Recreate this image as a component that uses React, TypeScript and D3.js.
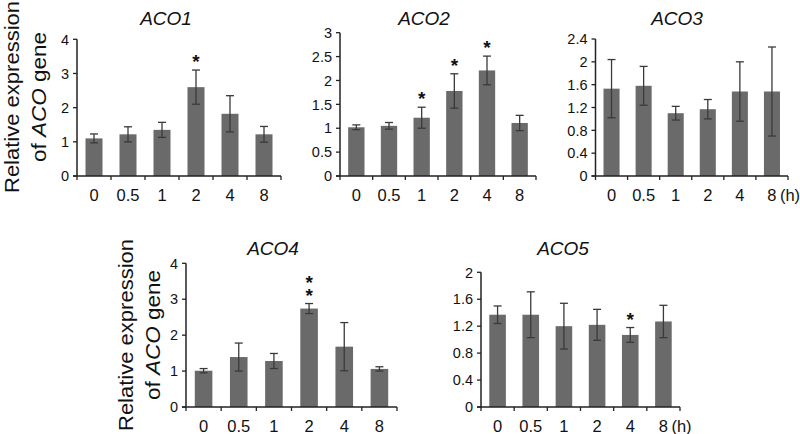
import React from "react";
import * as d3 from "d3";

const categories = ["0", "0.5", "1", "2", "4", "8"];
const genes = ["ACO1", "ACO2", "ACO3", "ACO4", "ACO5"];

const aco1Mean = [1.1, 1.22, 1.35, 2.6, 1.82, 1.22];
const aco1Err = [0.13, 0.22, 0.22, 0.5, 0.53, 0.23];
const aco1Stars = [0, 0, 0, 1, 0, 0];
const aco1Ticks = [0, 1, 2, 3, 4];

const aco2Mean = [1.02, 1.05, 1.22, 1.78, 2.21, 1.11];
const aco2Err = [0.05, 0.07, 0.22, 0.36, 0.3, 0.16];
const aco2Stars = [0, 0, 1, 1, 1, 0];
const aco2Ticks = [0, 0.5, 1, 1.5, 2, 2.5, 3];

const aco3Mean = [1.53, 1.58, 1.1, 1.17, 1.48, 1.48];
const aco3Err = [0.51, 0.34, 0.12, 0.17, 0.52, 0.78];
const aco3Stars = [0, 0, 0, 0, 0, 0];
const aco3Ticks = [0, 0.4, 0.8, 1.2, 1.6, 2, 2.4];

const aco4Mean = [1.01, 1.39, 1.28, 2.74, 1.68, 1.06];
const aco4Err = [0.06, 0.39, 0.21, 0.14, 0.67, 0.06];
const aco4Stars = [0, 0, 0, 2, 0, 0];
const aco4Ticks = [0, 1, 2, 3, 4];

const aco5Mean = [1.37, 1.37, 1.2, 1.22, 1.07, 1.27];
const aco5Err = [0.13, 0.34, 0.34, 0.23, 0.11, 0.24];
const aco5Stars = [0, 0, 0, 0, 1, 0];
const aco5Ticks = [0, 0.4, 0.8, 1.2, 1.6, 2];

const FONT = "'Liberation Sans', Arial, Helvetica, sans-serif";
const BAR = "#6a6a6a";
const ERR = "#3a3a3a";
const AXIS = "#222";

type PanelDef = {
  gene: string;
  mean: number[];
  err: number[];
  stars: number[];
  ticks: number[];
  x0: number; x1: number; yTop: number; yBot: number;
  titleX: number; titleY: number;
  showH: boolean;
};

const panels: PanelDef[] = [
  { gene: genes[0], mean: aco1Mean, err: aco1Err, stars: aco1Stars, ticks: aco1Ticks, x0: 77, x1: 281, yTop: 39.3, yBot: 176, titleX: 166, titleY: 25, showH: false },
  { gene: genes[1], mean: aco2Mean, err: aco2Err, stars: aco2Stars, ticks: aco2Ticks, x0: 340, x1: 536, yTop: 32.7, yBot: 176, titleX: 424, titleY: 25, showH: false },
  { gene: genes[2], mean: aco3Mean, err: aco3Err, stars: aco3Stars, ticks: aco3Ticks, x0: 595.5, x1: 788, yTop: 39, yBot: 176, titleX: 677, titleY: 25, showH: true },
  { gene: genes[3], mean: aco4Mean, err: aco4Err, stars: aco4Stars, ticks: aco4Ticks, x0: 186, x1: 397, yTop: 263.3, yBot: 407, titleX: 273, titleY: 255, showH: false },
  { gene: genes[4], mean: aco5Mean, err: aco5Err, stars: aco5Stars, ticks: aco5Ticks, x0: 481, x1: 680, yTop: 272.3, yBot: 407, titleX: 563, titleY: 255, showH: true },
];

function Panel({ p }: { p: PanelDef }) {
  const x = d3.scaleBand<string>().domain(categories).range([p.x0, p.x1]).paddingInner(0.5).paddingOuter(0.25);
  const maxT = p.ticks[p.ticks.length - 1];
  const y = d3.scaleLinear().domain([0, maxT]).range([p.yBot, p.yTop]);
  const step = x.step();
  const bw = x.bandwidth();
  const boundaries = d3.range(categories.length + 1).map((i) => p.x0 + i * step);
  return (
    <g>
      <text x={p.titleX} y={p.titleY} textAnchor="middle" fontStyle="italic" fontSize={19} fontFamily={FONT} fill="#111">
        {p.gene}
      </text>
      {categories.map((c, i) => {
        const cx = (x(c) as number) + bw / 2;
        const m = p.mean[i];
        const e = p.err[i];
        const top = y(m + e);
        return (
          <g key={c}>
            <rect x={x(c)} y={y(m)} width={bw} height={p.yBot - y(m)} fill={BAR} />
            <line x1={cx} x2={cx} y1={y(m + e)} y2={y(m - e)} stroke={ERR} strokeWidth={1.3} />
            <line x1={cx - 4} x2={cx + 4} y1={y(m + e)} y2={y(m + e)} stroke={ERR} strokeWidth={1.3} />
            <line x1={cx - 4} x2={cx + 4} y1={y(m - e)} y2={y(m - e)} stroke={ERR} strokeWidth={1.3} />
            {p.stars[i] > 0 && (
              <text x={cx} y={top - 2 - (p.stars[i] - 1) * 13} textAnchor="middle" fontSize={19} fontWeight="bold" fontFamily={FONT} fill="#111">
                {d3.range(p.stars[i]).map((k) => (
                  <tspan key={k} x={cx} dy={k === 0 ? 0 : 13}>*</tspan>
                ))}
              </text>
            )}
          </g>
        );
      })}
      <line x1={p.x0} x2={p.x0} y1={p.yTop} y2={p.yBot} stroke={AXIS} strokeWidth={1.5} />
      <line x1={p.x0 - 4} x2={p.x1} y1={p.yBot} y2={p.yBot} stroke={AXIS} strokeWidth={1.5} />
      {p.ticks.map((t) => (
        <g key={t}>
          <line x1={p.x0 - 4} x2={p.x0} y1={y(t)} y2={y(t)} stroke={AXIS} strokeWidth={1.3} />
          <text x={p.x0 - 8} y={y(t)} dy="0.36em" textAnchor="end" fontSize={14.5} fontFamily={FONT} fill="#111">
            {String(t)}
          </text>
        </g>
      ))}
      {boundaries.map((bx, i) => (
        <line key={i} x1={bx} x2={bx} y1={p.yBot} y2={p.yBot + 4} stroke={AXIS} strokeWidth={1.3} />
      ))}
      {categories.map((c) => {
        const cx = (x(c) as number) + bw / 2;
        return (
          <text key={c} x={cx} y={p.yBot + 25} textAnchor="middle" fontSize={16.5} fontFamily={FONT} fill="#111">
            {c}
          </text>
        );
      })}
      {p.showH && (
        <text x={(x(categories[5]) as number) + bw / 2 + 8} y={p.yBot + 25} textAnchor="start" fontSize={16.5} fontFamily={FONT} fill="#111">
          (h)
        </text>
      )}
    </g>
  );
}

function YLabel({ cx, cy, gap }: { cx: number; cy: number; gap: number }) {
  return (
    <g transform={`translate(${cx},${cy}) rotate(-90)`}>
      <text x={0} y={0} textAnchor="middle" fontSize={21} fontFamily={FONT} fill="#111" textLength={192} lengthAdjust="spacingAndGlyphs">
        Relative expression
      </text>
      <text x={0} y={gap} textAnchor="middle" fontSize={20} fontFamily={FONT} fill="#111" textLength={130} lengthAdjust="spacingAndGlyphs">
        of <tspan fontStyle="italic">ACO</tspan> gene
      </text>
    </g>
  );
}

export default function App() {
  return (
    <svg width={800} height={434} style={{ position: "absolute", left: 0, top: 0, background: "#fff" }}>
      <rect width={800} height={434} fill="#fff" />
      <YLabel cx={19} cy={97} gap={26.5} />
      <YLabel cx={133} cy={335} gap={27} />
      {panels.map((p) => (
        <Panel key={p.gene} p={p} />
      ))}
    </svg>
  );
}
